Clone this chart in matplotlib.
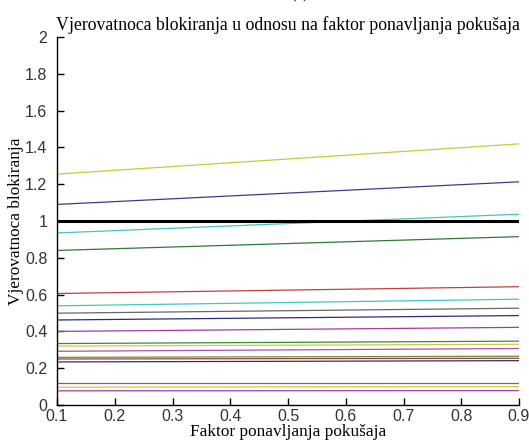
import matplotlib
matplotlib.use("Agg")

import matplotlib.pyplot as plt

# faktor ponavljanja (x) - krajnje tacke
faktor = [0.1, 0.9]

# vrijednosti na pocetku i kraju svake linije (odozgo prema dolje)
linije = [
    ([1.255, 1.419], "#c8c83c"),
    ([1.090, 1.213], "#3c3c8c"),
    ([0.935, 1.037], "#46c4c4"),
    ([0.840, 0.915], "#2e7a3a"),
    ([0.606, 0.643], "#c04040"),
    ([0.539, 0.575], "#46c4c4"),
    ([0.499, 0.526], "#686868"),
    ([0.462, 0.486], "#2c2c80"),
    ([0.400, 0.422], "#a23ca2"),
    ([0.334, 0.347], "#3a8a3a"),
    ([0.320, 0.330], "#cccc40"),
    ([0.292, 0.307], "#b050b0"),
    ([0.259, 0.265], "#7a8a3a"),
    ([0.250, 0.254], "#8a4a3a"),
    ([0.234, 0.241], "#2c2c80"),
    ([0.122, 0.122], "#707070"),
    ([0.097, 0.100], "#cccc40"),
    ([0.077, 0.078], "#a23ca2"),
]

granica = [1.0, 1.0]

x_ticks = [0.1, 0.2, 0.3, 0.4, 0.5, 0.6, 0.7, 0.8, 0.9]
y_ticks = [0, 0.2, 0.4, 0.6, 0.8, 1, 1.2, 1.4, 1.6, 1.8, 2]


def main() -> None:
    fig = plt.figure(figsize=(5.29, 4.45), dpi=100)
    ax = fig.add_axes([57 / 529, 40 / 445, 462 / 529, 368 / 445])

    for vrijednosti, boja in linije:
        ax.plot(faktor, vrijednosti, color=boja, linewidth=0.9)

    ax.plot(faktor, granica, color="black", linewidth=2.2)

    ax.set_xlim(0.1, 0.9)
    ax.set_ylim(0, 2)
    ax.set_xticks(x_ticks)
    ax.set_xticklabels([f"{v:g}" for v in x_ticks])
    ax.set_yticks(y_ticks)
    ax.set_yticklabels([f"{v:g}" for v in y_ticks])

    for side in ["top", "right"]:
        ax.spines[side].set_visible(False)
    for side in ["left", "bottom"]:
        ax.spines[side].set_linewidth(1.0)

    ax.tick_params(direction="in", length=5, width=1.0, labelsize=11.5)
    ax.tick_params(axis="y", pad=7)
    ax.tick_params(axis="x", pad=3)
    for lab in ax.get_xticklabels() + ax.get_yticklabels():
        lab.set_family("Liberation Sans")
        lab.set_color("#333333")

    serif = "Liberation Serif"
    ax.set_title(
        "Vjerovatnoca blokiranja u odnosu na faktor ponavljanja pokušaja",
        fontsize=12.8, family=serif, pad=5,
    )
    ax.set_xlabel("Faktor ponavljanja pokušaja", fontsize=12.4, family=serif, labelpad=0)
    ax.set_ylabel("Vjerovatnoca blokiranja", fontsize=12.4, family=serif, labelpad=1)

    fig.text(0.566, 1.012, "(c)", ha="center", va="center", fontsize=12, family=serif)

    fig.savefig("out.png", dpi=100)
    plt.close(fig)


if __name__ == "__main__":
    main()
